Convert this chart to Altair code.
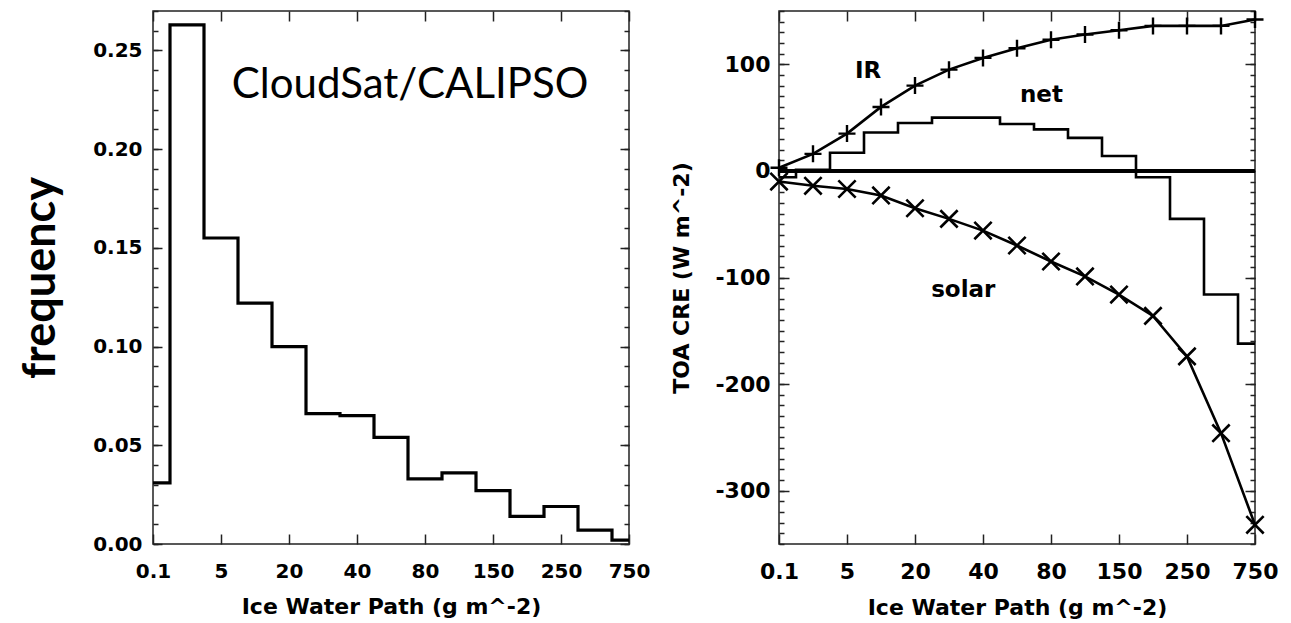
import altair as alt
import pandas as pd

# ---------------- data ----------------
x_tick_labels = ["0.1", "5", "20", "40", "80", "150", "250", "750"]
bin_index = list(range(15))
frequency = [0.031, 0.263, 0.155, 0.122, 0.100, 0.066, 0.065, 0.054,
             0.033, 0.036, 0.027, 0.014, 0.019, 0.007, 0.002]
ir_cre = [3, 16, 35, 60, 80, 95, 106, 115, 123, 128, 132, 136, 136, 136, 142]
solar_cre = [-10, -14, -17, -23, -35, -45, -56, -70, -85, -99, -116, -136, -174, -246, -332]
net_cre = [-6, 1, 17, 36, 45, 50, 50, 44, 39, 31, 14, -6, -45, -116, -162]

left_note = ["CloudSat/CALIPSO"]
left_note_x = [7.56]
left_note_y = [0.226]
right_notes = ["IR", "net", "solar"]
right_notes_x = [2.62, 7.72, 5.42]
right_notes_y = [87, 64.7, -118]

freq_ticks = [0, 0.05, 0.1, 0.15, 0.2, 0.25]
cre_ticks = [-300, -200, -100, 0, 100]

# ---------------- helpers ----------------
FONT = "DejaVu Sans"
major_x = list(range(0, 15, 2))
label_expr = "[" + ",".join("'%s'" % s for s in x_tick_labels) + "][round(datum.value / 2)]"
freq_minor = [round(k * 0.01, 2) for k in range(28)]
cre_minor = list(range(-350, 151, 10))

W, H = 476, 533


def x_label_axis(size):
    return alt.Axis(orient="bottom", values=major_x, labelExpr=label_expr, ticks=False,
                    tickSize=0, domain=False, grid=False, labelFont=FONT,
                    labelFontWeight="bold", labelOverlap=False, labelFlush=False,
                    labelFontSize=size, labelColor="black", labelPadding=17,
                    title="Ice Water Path (g m^-2)", titleFont=FONT, titleFontWeight="bold",
                    titleFontSize=22, titleColor="black", titlePadding=15)


def tick_axis(orient, values, size):
    return alt.Axis(orient=orient, values=values, ticks=True, tickSize=size, offset=-size,
                    labels=False, domain=False, grid=False, title=None,
                    minExtent=0, maxExtent=0,
                    tickColor="#222", tickWidth=1.5)


# ---------------- left panel ----------------
xs_l = alt.Scale(domain=[0, 14], nice=False, zero=False)
ys_l = alt.Scale(domain=[0, 0.27], nice=False)
left_df = pd.DataFrame({"i": bin_index, "f": frequency})
base_l = alt.Chart(left_df)

hist = base_l.mark_line(interpolate="step", color="black", strokeWidth=3.2,
                        strokeJoin="miter").encode(
    x=alt.X("i:Q", scale=xs_l, axis=x_label_axis(20)),
    y=alt.Y("f:Q", scale=ys_l, axis=alt.Axis(
        orient="left", values=freq_ticks, format=".2f", ticks=False, tickSize=0,
        domain=False, labelOverlap=False, labelFlush=False,
        grid=False, labelFont=FONT, labelFontWeight="bold", labelFontSize=20,
        labelColor="black", labelPadding=11, title="frequency", titleFont="Lato",
        titleFontWeight="bold", titleFontSize=45, titleColor="black", titlePadding=29)),
)


def ghost_l(xaxis, yaxis):
    if xaxis is None:
        xenc = alt.X("i:Q", scale=xs_l, axis=None)
    else:
        xenc = alt.X("i:Q", scale=xs_l, axis=xaxis)
    return base_l.mark_line(opacity=0).encode(
        x=xenc, y=alt.Y("f:Q", scale=ys_l, axis=yaxis))


gl1 = ghost_l(tick_axis("bottom", major_x, 10), tick_axis("left", freq_ticks, 9))
gl2 = ghost_l(tick_axis("top", major_x, 10), tick_axis("left", freq_minor, 5))
gl3 = ghost_l(None, tick_axis("right", freq_ticks, 9))
gl4 = ghost_l(None, tick_axis("right", freq_minor, 5))

note_l = alt.Chart(pd.DataFrame({"x": left_note_x, "y": left_note_y, "t": left_note})).mark_text(
    font="Lato", fontSize=42, color="black", align="center", baseline="alphabetic"
).encode(
    x=alt.X("x:Q", scale=xs_l, axis=None),
    y=alt.Y("y:Q", scale=ys_l, axis=None),
    text="t:N",
)

left = alt.layer(hist, gl1, gl2, gl3, gl4, note_l).resolve_axis(
    x="independent", y="independent").properties(width=W, height=H)

# ---------------- right panel ----------------
xs_r = alt.Scale(domain=[0, 14], nice=False, zero=False)
ys_r = alt.Scale(domain=[-350, 150], nice=False, zero=False)
right_df = pd.DataFrame({"i": bin_index, "ir": ir_cre, "solar": solar_cre, "net": net_cre})
base_r = alt.Chart(right_df)

PLUS = "M0,-1L0,1M-1,0L1,0"
CROSS = "M-1,-1L1,1M-1,1L1,-1"

ir_line = base_r.mark_line(color="black", strokeWidth=2.6).encode(
    x=alt.X("i:Q", scale=xs_r, axis=x_label_axis(22)),
    y=alt.Y("ir:Q", scale=ys_r, axis=alt.Axis(
        orient="left", values=cre_ticks, labelExpr="'' + datum.value", ticks=False,
        tickSize=0, domain=False, grid=False, labelOverlap=False, labelFlush=False,
        labelFont=FONT, labelFontWeight="bold", labelFontSize=22,
        labelColor="black", labelPadding=9, title="TOA CRE (W m^-2)", titleFont=FONT,
        titleFontWeight="bold", titleFontSize=22, titleColor="black", titlePadding=21)),
)
ir_pts = base_r.mark_point(shape=PLUS, size=289, filled=False, color="black",
                           strokeWidth=2.4, opacity=1).encode(
    x=alt.X("i:Q", scale=xs_r, axis=None),
    y=alt.Y("ir:Q", scale=ys_r, axis=None),
)
solar_line = base_r.mark_line(color="black", strokeWidth=2.6).encode(
    x=alt.X("i:Q", scale=xs_r, axis=None),
    y=alt.Y("solar:Q", scale=ys_r, axis=None),
)
solar_pts = base_r.mark_point(shape=CROSS, size=300, filled=False, color="black",
                              strokeWidth=2.6, opacity=1).encode(
    x=alt.X("i:Q", scale=xs_r, axis=None),
    y=alt.Y("solar:Q", scale=ys_r, axis=None),
)
net_line = base_r.mark_line(interpolate="step", color="black", strokeWidth=2.6,
                            strokeJoin="miter").encode(
    x=alt.X("i:Q", scale=xs_r, axis=None),
    y=alt.Y("net:Q", scale=ys_r, axis=None),
)
zero_rule = base_r.mark_rule(color="black", strokeWidth=2.6).encode(
    y=alt.Y(datum=0, scale=ys_r, axis=None),
)


def ghost_r(xaxis, yaxis):
    if xaxis is None:
        xenc = alt.X("i:Q", scale=xs_r, axis=None)
    else:
        xenc = alt.X("i:Q", scale=xs_r, axis=xaxis)
    return base_r.mark_line(opacity=0).encode(
        x=xenc, y=alt.Y("ir:Q", scale=ys_r, axis=yaxis))


gr1 = ghost_r(tick_axis("bottom", major_x, 10), tick_axis("left", cre_ticks, 10))
gr2 = ghost_r(tick_axis("top", major_x, 10), tick_axis("left", cre_minor, 5))
gr3 = ghost_r(None, tick_axis("right", cre_ticks, 10))
gr4 = ghost_r(None, tick_axis("right", cre_minor, 5))

notes_r = alt.Chart(pd.DataFrame({"x": right_notes_x, "y": right_notes_y, "t": right_notes})).mark_text(
    font=FONT, fontWeight="bold", fontSize=23, color="black", align="center", baseline="alphabetic"
).encode(
    x=alt.X("x:Q", scale=xs_r, axis=None),
    y=alt.Y("y:Q", scale=ys_r, axis=None),
    text="t:N",
)

right = alt.layer(ir_line, zero_rule, ir_pts, solar_line, solar_pts, net_line,
                  gr1, gr2, gr3, gr4, notes_r).resolve_axis(
    x="independent", y="independent").properties(width=W, height=H)

chart = alt.hconcat(left, right, spacing=19).properties(
    padding={"left": 9, "top": -3, "right": 0, "bottom": 0},
    background="white",
).configure_view(stroke="#222", strokeWidth=1.5)

chart.save("out.html", embed_options={"renderer": "svg", "actions": False})
